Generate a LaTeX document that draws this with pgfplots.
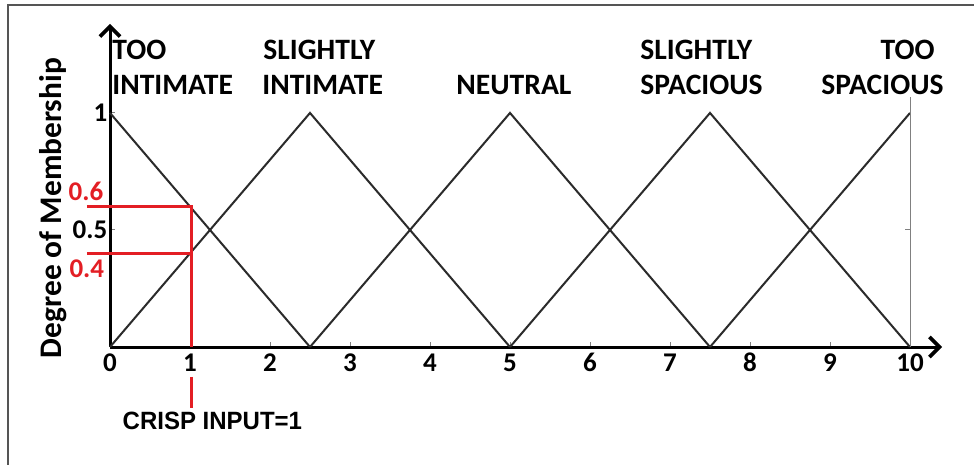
\documentclass[border=0pt]{standalone}
\usepackage{fontspec}
\setmainfont{Carlito}[Numbers=Lining]
\newfontfamily\arialfont{Liberation Sans}
\usepackage{pgfplots}
\pgfplotsset{compat=1.18}
\usetikzlibrary{arrows.meta}
\definecolor{mfline}{HTML}{2B2B2B}
\definecolor{crisp}{HTML}{E31E24}
\definecolor{framegray}{HTML}{555555}
\newcommand{\lbl}{\fontsize{14.8}{17}\selectfont\bfseries}
\newcommand{\tkl}{\fontsize{13.5}{15}\selectfont\bfseries}
\begin{document}
\begin{tikzpicture}
  % 1px of the reference = 0.5pt
  \useasboundingbox[fill=white] (0,0) rectangle (487pt,-232.5pt);
  \draw[line width=1pt, framegray] (4pt,-232.5pt) -- (4pt,-2.5pt) -- (487pt,-2.5pt);

  % category labels
  \begin{scope}[every node/.style={inner sep=0pt, font=\lbl}]
    \node[anchor=base west] at (56pt,-29.8pt) {TOO};
    \node[anchor=base west] at (56pt,-47.5pt) {INTIMATE};
    \node[anchor=base west] at (131.5pt,-29.8pt) {SLIGHTLY};
    \node[anchor=base west] at (131pt,-47.5pt) {INTIMATE};
    \node[anchor=base west] at (228pt,-47.5pt) {NEUTRAL};
    \node[anchor=base west] at (320pt,-29.8pt) {SLIGHTLY};
    \node[anchor=base west] at (320pt,-47.5pt) {SPACIOUS};
    \node[anchor=base east] at (467.5pt,-29.8pt) {TOO};
    \node[anchor=base east] at (472pt,-47.5pt) {SPACIOUS};
  \end{scope}

  \node[rotate=90, inner sep=0pt, font=\fontsize{15.7}{18}\selectfont\bfseries]
    at (26.5pt,-104pt) {Degree of Membership};

  \begin{axis}[
      at={(55pt,-173.5pt)}, anchor=south west,
      scale only axis,
      width=416pt, height=161.5pt,
      xmin=0, xmax=10.4, ymin=0, ymax=1.38,
      axis lines=left,
      axis line style={line width=1.5pt, black,
        -{Straight Barb[length=5pt,width=10pt,line width=1.8pt]}},
      xtick={0,1,...,10},
      ytick={0.5,1},
      yticklabels={0.5,1},
      tick align=inside,
      major tick length=2.5pt,
      tick style={gray, line width=0.5pt},
      /pgf/number format/assume math mode=true,
      xticklabel={\strut\pgfmathprintnumber{\tick}},
      xticklabel style={font=\tkl, inner sep=1.5pt},
      yticklabel style={font=\tkl, inner sep=1.2pt},
      clip=false,
    ]
    % membership functions
    \addplot[mfline, line width=1pt] coordinates {(0,1) (2.5,0)};
    \addplot[mfline, line width=1pt] coordinates {(0,0) (2.5,1) (5,0)};
    \addplot[mfline, line width=1pt] coordinates {(2.5,0) (5,1) (7.5,0)};
    \addplot[mfline, line width=1pt] coordinates {(5,0) (7.5,1) (10,0)};
    \addplot[mfline, line width=1pt] coordinates {(7.5,0) (10,1)};
    % right border at x=10
    \addplot[gray, line width=0.5pt] coordinates {(10,0) (10,1.07)};
    \draw[gray, line width=0.5pt] (axis cs:10,0.5) -- ++(-2.5pt,0pt);
    % crisp input
    \addplot[crisp, line width=1.5pt] coordinates {(-0.29,0.6) (1.02,0.6) (1.02,0)};
    \addplot[crisp, line width=1.5pt] coordinates {(-0.29,0.4) (1.0,0.4)};
    \addplot[crisp, line width=1.5pt] coordinates {(1.02,-0.128) (1.02,-0.26)};
    \node[crisp, font=\tkl, inner sep=0pt] at (axis cs:-0.3,0.665) {0.6};
    \node[crisp, font=\tkl, inner sep=0pt] at (axis cs:-0.29,0.335) {0.4};
    \node[font=\arialfont\fontsize{12.5}{14}\selectfont\bfseries, inner sep=0pt,
      xscale=0.96] at (axis cs:1.28,-0.315) {CRISP INPUT=1};
  \end{axis}
\end{tikzpicture}
\end{document}
